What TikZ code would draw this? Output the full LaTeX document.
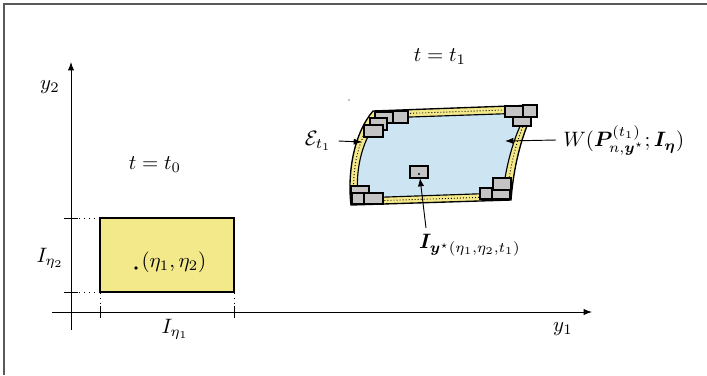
\documentclass[tikz,border=0pt]{standalone}
\usepackage{amsmath,amssymb,bm}
\usepackage{tikz}
\usetikzlibrary{arrows.meta}

\definecolor{bandyellow}{RGB}{244,233,138}
\definecolor{regionblue}{RGB}{205,228,243}
\definecolor{cellgray}{RGB}{196,196,196}

\begin{document}
\begin{tikzpicture}[x=0.48pt,y=-0.48pt,
  cellbox/.style={draw=black,fill=cellgray,line width=0.55pt},
  axisline/.style={-{Latex[length=4pt,width=3pt]},line width=0.45pt},
  tickline/.style={line width=0.45pt},
  guideline/.style={dotted,line width=0.35pt},
  pointer/.style={-{Latex[length=4pt,width=3pt]},line width=0.45pt}]
\useasboundingbox (0,0) rectangle (707,375);
% frame
\draw[gray!70!black,line width=0.7pt] (707,4) -- (4,4) -- (4,375);

% axes
\draw[axisline] (71,330) -- (71,62);
\draw[axisline] (52,312) -- (592,312);
\node (ytwo) at (50,87) {$y_2$};
\node (yone) at (563,329) {$y_1$};

% box at t0
\fill[bandyellow] (100,218) rectangle (234,292);
\draw[line width=0.6pt] (100,218) rectangle (234,292);
\draw[tickline] (64,218) -- (78,218);
\draw[tickline] (64,292) -- (78,292);
\draw[guideline] (79,218) -- (99,218);
\draw[guideline] (79,292) -- (99,292);
\draw[tickline] (100,306) -- (100,318);
\draw[tickline] (234,306) -- (234,318);
\draw[guideline] (100,293) -- (100,305);
\draw[guideline] (234,293) -- (234,305);
\node (ietatwo) at (50,258) {$I_{\eta_2}$};
\node (ietaone) at (175,329) {$I_{\eta_1}$};
\fill (136,268) circle (1.8);
\node[anchor=west,inner sep=1pt] (pt) at (139,262) {$(\eta_1,\eta_2)$};
\node (tzero) at (155,165) {$t=t_0$};

% deformed region at t1
\node (tone) at (440,57) {$t=t_1$};
\fill (349,100) circle (0.7);
\draw[fill=bandyellow,line width=0.65pt] (373,111) -- (537,105)
  .. controls (525,125) and (514,160) .. (511,200) -- (351,205)
  .. controls (347,170) and (355,132) .. cycle;
\draw[fill=regionblue,line width=0.55pt] (381,118) -- (527,113)
  .. controls (516,130) and (506,163) .. (503,193) -- (358,198)
  .. controls (355,170) and (362,137) .. cycle;
\draw[densely dotted,line width=0.45pt] (377,114.5) -- (532,109)
  .. controls (520,127) and (510,161) .. (507,196.5) -- (354.5,201.5)
  .. controls (351,170) and (358.5,134) .. cycle;

% cells on the boundary
\draw[cellbox] (375,112) rectangle (393,123);
\draw[cellbox] (393,111) rectangle (408,123);
\draw[cellbox] (370,118) rectangle (387,130);
\draw[cellbox] (364,125) rectangle (383,137);
\draw[cellbox] (505,106) rectangle (523,117);
\draw[cellbox] (523,105) rectangle (537,117);
\draw[cellbox] (513,117) rectangle (531,126);
\draw[cellbox] (493,178) rectangle (511,190);
\draw[cellbox] (480,188) rectangle (492,199);
\draw[cellbox] (492,190) rectangle (510,199);
\draw[cellbox] (351,186) rectangle (369,194);
\draw[cellbox] (352,193) rectangle (365,204);
\draw[cellbox] (364,193) rectangle (383,204);
\draw[cellbox] (410,166) rectangle (428,178);
\fill (419,174) circle (1.2);
\coordinate (cellpt) at (420,178);

% labels with pointers
\node (eps) at (318,141) {$\mathcal{E}_{t_1}$};
\coordinate (epstip) at (362,142);
\draw[pointer] (eps.east) -- (epstip);
\node[anchor=west] (wlabel) at (556,140) {$W(\bm{P}^{(t_1)}_{n,\bm{y}^\star};\bm{I}_{\bm{\eta}})$};
\coordinate (wtip) at (505,141);
\draw[pointer] (wlabel.west) -- (wtip);
\node (ilabel) at (470,245) {$\bm{I}_{\bm{y}^\star(\eta_1,\eta_2,t_1)}$};
\coordinate (ifoot) at (426,228);
\draw[pointer] (ifoot) -- (cellpt);
\end{tikzpicture}
\end{document}
